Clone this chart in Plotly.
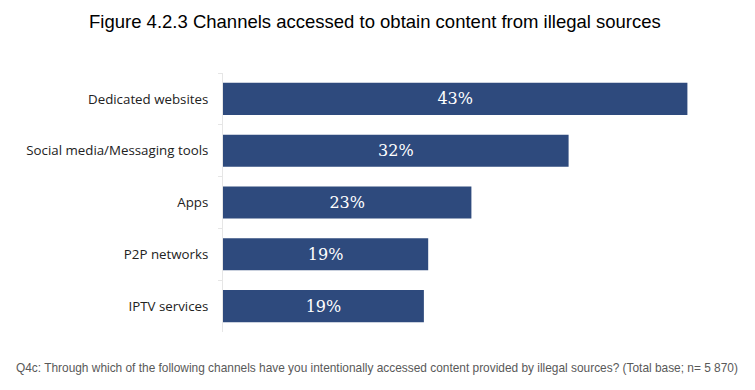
import plotly.graph_objects as go

categories = ["Dedicated websites", "Social media/Messaging tools", "Apps", "P2P networks", "IPTV services"]
values = [43, 32, 23, 19, 18.6]
title_text = "Figure 4.2.3 Channels accessed to obtain content from illegal sources"
note_text = ("Q4c: Through which of the following channels have you intentionally accessed content "
             "provided by illegal sources? (Total base; n= 5 870)")

fig = go.Figure(go.Bar(
    x=values, y=categories, orientation="h",
    marker=dict(color="#2E4A7D", line=dict(width=0)),
    texttemplate="%{x:.0f}%", textposition="inside", insidetextanchor="middle",
    textfont=dict(family="DejaVu Serif", size=16, color="white"),
    hoverinfo="skip",
))

fig.update_layout(
    width=755, height=390,
    margin=dict(l=215.3, r=54.1, t=64.8, b=66.1),
    paper_bgcolor="white", plot_bgcolor="white",
    bargap=0.38,
    showlegend=False,
    title=dict(text=title_text, xref="container", yref="container", x=0.486, xanchor="center",
               y=0.9654, yanchor="middle",
               font=dict(family="Liberation Sans", size=18.5, color="black")),
    xaxis=dict(range=[0, 45], visible=False, fixedrange=True),
    yaxis=dict(autorange="reversed", showline=True, linecolor="#E6E6E6", linewidth=1,
               ticks="outside", tickson="boundaries", ticklen=4, tickcolor="#E6E6E6",
               ticklabelstandoff=11,
               tickfont=dict(family="Open Sans", size=13.3, color="#222222"),
               showgrid=False, zeroline=False),
    annotations=[dict(text=note_text, xref="paper", yref="paper", x=0.3159, y=-0.1393,
                      xanchor="center", yanchor="middle", showarrow=False,
                      font=dict(family="Liberation Sans", size=11.9, color="#595959"))],
)
fig.write_html("out.html")
